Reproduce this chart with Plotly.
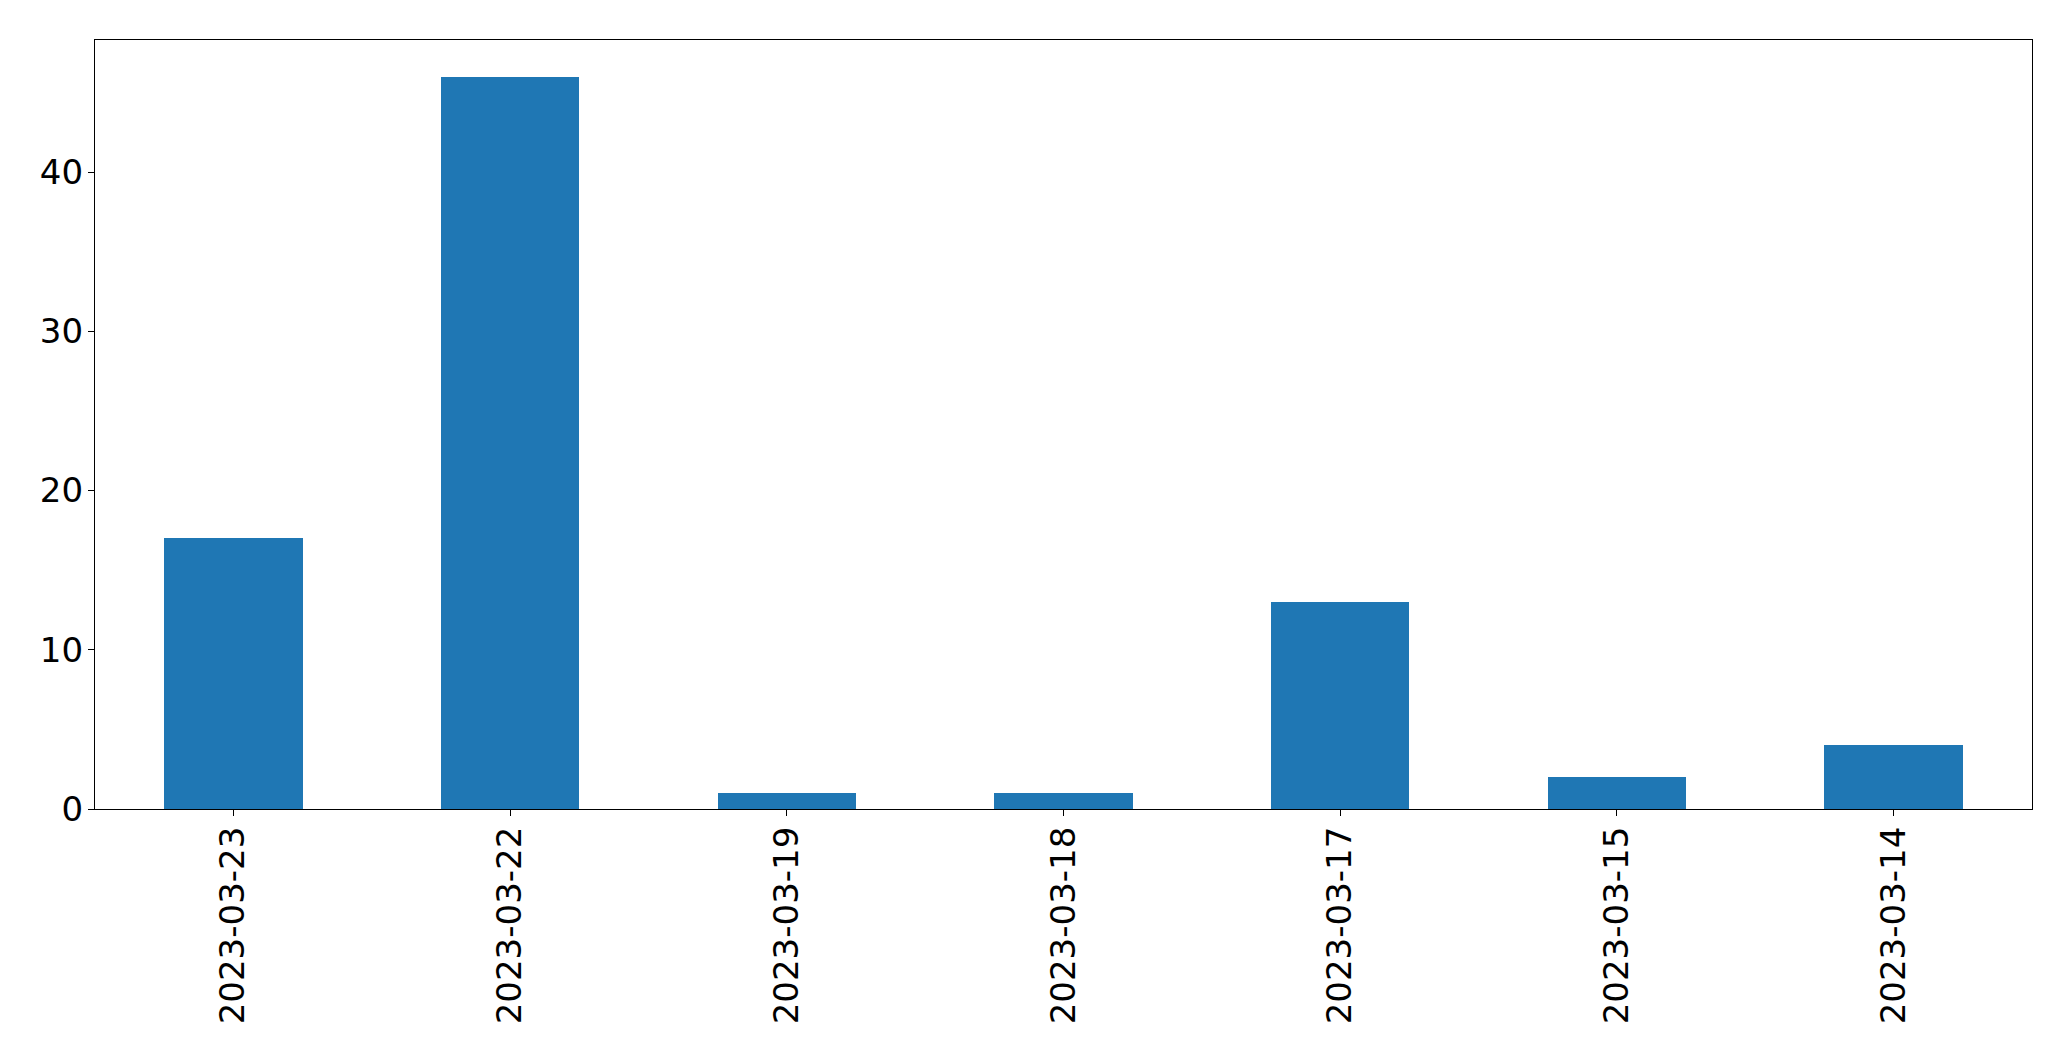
import plotly.graph_objects as go

categories = ["2023-03-23", "2023-03-22", "2023-03-19", "2023-03-18", "2023-03-17", "2023-03-15", "2023-03-14"]
values = [17, 46, 1, 1, 13, 2, 4]
y_ticks = [0, 10, 20, 30, 40]

fig = go.Figure(go.Bar(
    x=list(range(len(categories))),
    y=values,
    width=0.5,
    marker=dict(color="#1f77b4", line=dict(width=0)),
))

font = dict(family="DejaVu Sans", size=34, color="black")

# page body has 8px margin; compensate so axes land at the reference pixels
fig.update_layout(
    width=2055, height=1045, autosize=False,
    margin=dict(l=86.5, r=31.3, t=31.5, b=244, pad=0),
    paper_bgcolor="white", plot_bgcolor="white",
    showlegend=False,
    font=font,
    bargap=0,
)
fig.update_xaxes(
    range=[-0.5, len(categories) - 0.5],
    tickmode="array", tickvals=list(range(len(categories))), ticktext=categories,
    tickangle=-90, tickfont=font,
    showline=True, linecolor="black", linewidth=1.2, mirror=True,
    ticks="outside", ticklen=6, tickwidth=1.2, tickcolor="black",
    showgrid=False, zeroline=False, ticklabelstandoff=-3,
)
fig.update_yaxes(
    range=[0, max(values) * 1.05],
    tickmode="array", tickvals=y_ticks, ticktext=[str(t) for t in y_ticks],
    tickfont=font,
    showline=True, linecolor="black", linewidth=1.2, mirror=True,
    ticks="outside", ticklen=6, tickwidth=1.2, tickcolor="black",
    showgrid=False, zeroline=False, ticklabelstandoff=-2,
)

fig.write_html("out.html")
